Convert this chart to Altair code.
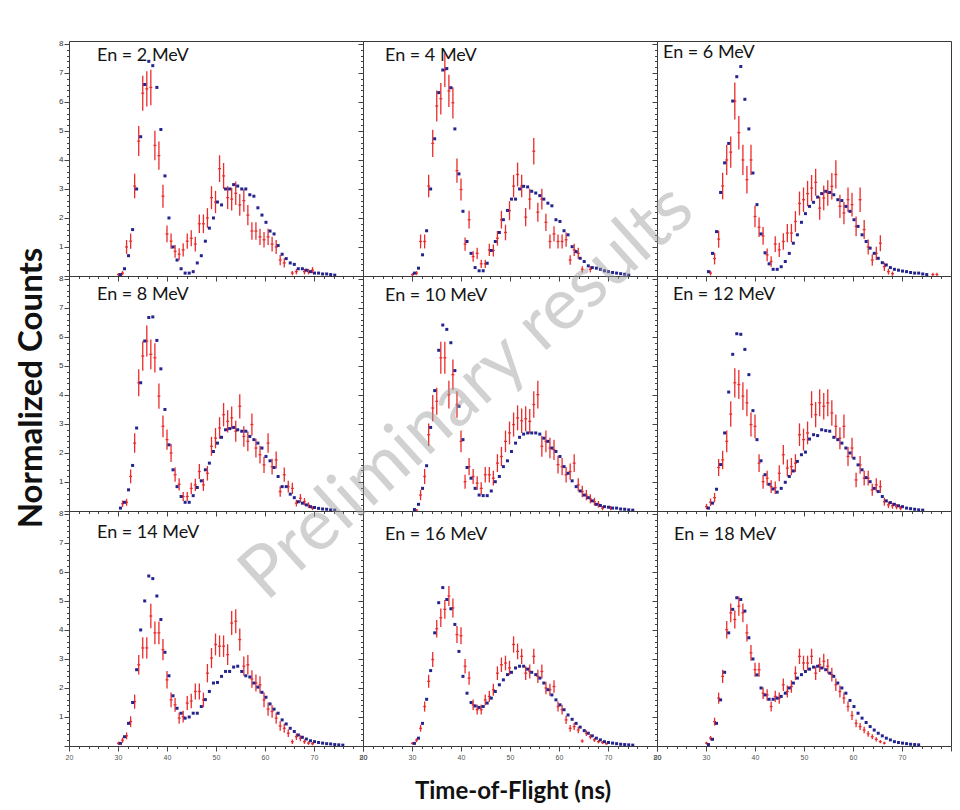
import altair as alt
import pandas as pd

# ---------------- data ----------------
# time-of-flight bin centres (ns)
TOF = [30.10, 30.93, 31.75, 32.58, 33.40, 34.23, 35.05, 35.88, 36.70, 37.53,
       38.35, 39.18, 40.00, 40.83, 41.65, 42.48, 43.30, 44.13, 44.95, 45.78,
       46.60, 47.43, 48.25, 49.08, 49.90, 50.73, 51.55, 52.38, 53.20, 54.03,
       54.85, 55.68, 56.50, 57.33, 58.15, 58.98, 59.80, 60.63, 61.45, 62.28,
       63.10, 63.93, 64.75, 65.58, 66.40, 67.23, 68.05, 68.88, 69.70, 70.53,
       71.35, 72.18, 73.00, 73.83, 74.65, 75.48, 76.30, 77.13, 77.95]
BLUE_OFFSET = 0.4

ENERGIES = [2, 4, 6, 8, 10, 12, 14, 16, 18]
LABELS = ["En = %d MeV" % e for e in ENERGIES]

# measured (red, with error bars)
RED_2 = [0.05, 0.1, 1.0, 1.2, 3.1, 4.65, 6.3, 6.45, 6.5, 4.5, 4.15, 2.75, 1.45, 1.2, 0.85, 0.75, 0.9, 1.2,
         1.3, 1.1, 1.8, 1.8, 2.0, 2.7, 2.55, 3.7, 3.45, 2.7, 2.65, 2.85, 2.45, 2.6, 2.1, 1.55, 1.55, 1.35,
         1.25, 1.35, 1.1, 1.0, 0.55, 0.45, None, 0.1, 0.15, None, 0.15, 0.15, 0.2]
RED_4 = [0.05, 0.1, 1.19, 1.19, 3.1, 4.57, 5.86, 6.11, 7.1, 6.38, 5.97, 3.63, 2.98, 1.1, 1.94, 0.67, 0.78,
         0.42, 0.42, 0.9, 0.88, 1.3, 1.94, 1.5, 2.25, 3.1, 3.5, 3.1, 2.03, 2.65, 4.3, 2.2, 2.65, 1.85, 1.19,
         1.45, 1.19, 1.19, 1.25, 0.55, 0.9, 0.78, 0.23, None, 0.23]
RED_6 = [None, 0.1, 0.6, 1.27, 3.1, 4.0, 4.27, 6.03, 4.94, 4.0, 3.32, 4.0, 2.05, 1.68, 1.38, 0.73, 0.5, 1.1,
         0.9, 1.19, 1.48, 1.48, 1.88, 2.5, 2.63, 2.84, 3.03, 3.23, 2.34, 2.69, 2.86, 3.09, 3.5, 2.4, 2.17,
         2.63, 2.46, 1.71, 2.63, 1.6, 1.0, 0.55, 0.78, 1.13, 0.32, 0.15, 0.08, None, None, None, None, None,
         None, None, None, None, 0.05, 0.05]
RED_8 = [None, 0.25, 0.3, 1.19, 2.34, 4.42, 5.34, 5.86, 5.4, 5.28, 3.96, 2.92, 2.46, 2.0, 1.25, 0.92, 0.5,
         0.5, 0.78, 0.9, 1.36, 0.9, 1.3, 2.23, 2.51, 2.86, 3.32, 3.09, 3.21, 2.75, 3.61, 2.57, 2.4, 2.98,
         2.17, 1.94, 1.59, 2.34, 1.53, 1.76, 0.67, 1.25, 0.84, 0.78, 0.27, 0.44, 0.32, 0.2, 0.1]
RED_10 = [None, 0.03, 0.55, 1.19, 2.63, 3.55, 3.78, 5.28, 5.28, 4.01, 4.7, 3.67, 2.4, 1.01, 1.53, 1.19,
          0.96, 0.78, 1.25, 1.25, 1.13, 1.65, 1.88, 2.4, 2.69, 2.98, 3.21, 3.11, 3.18, 3.09, 3.67, 4.01,
          2.23, 2.4, 2.17, 2.11, 1.6, 1.53, 1.25, 1.36, 1.65, 0.9, 0.67, 0.55, 0.42, 0.32, 0.23, 0.1, None,
          0.1]
RED_12 = [0.15, 0.3, 0.46, 1.5, 1.76, 2.4, 3.34, 4.42, 4.36, 3.96, 3.73, 2.98, 2.92, 1.65, 1.01, 1.13,
          0.84, 0.8, 1.3, 1.94, 1.48, 1.53, 1.65, 2.63, 2.46, 2.69, 3.67, 3.32, 3.73, 3.61, 3.73, 3.38,
          2.92, 2.51, 2.92, 1.88, 2.17, 1.07, 1.59, 1.13, 1.13, 0.73, 0.9, 0.84, 0.32, 0.21, 0.18, 0.15, 0.1]
RED_14 = [0.09, 0.2, 0.35, 0.84, 1.53, 2.8, 3.38, 3.38, 4.48, 3.9, 3.9, 3.32, 2.28, 1.59, 1.42, 0.96,
          1.01, 1.48, 1.55, 1.88, 1.88, 1.59, 2.51, 3.03, 3.5, 3.44, 3.44, 3.15, 4.24, 4.3, 3.67, 2.75,
          2.8, 2.31, 2.17, 2.11, 1.59, 1.27, 1.19, 0.96, 0.69, 0.61, 0.44, 0.15, 0.32, 0.27, 0.15, 0.1, 0.08]
RED_16 = [0.09, 0.2, 0.61, 1.36, 2.23, 2.98, 4.04, 4.42, 4.71, 5.17, 4.76, 3.84, 3.8, 2.75, 2.34, 1.42,
          1.25, 1.25, 1.59, 1.71, 1.94, 2.51, 2.8, 2.86, 2.69, 3.5, 3.26, 3.09, 2.51, 2.57, 3.09, 2.4,
          2.57, 2.0, 1.94, 2.05, 1.36, 1.25, 0.9, 0.61, 0.67, 0.55, 0.17, 0.44, 0.32, 0.21, 0.15, 0.12, 0.08]
RED_18 = [0.1, 0.27, 0.84, 1.65, 2.4, 4.01, 4.59, 4.36, 4.82, 4.59, 3.9, 3.21, 2.63, 2.63, 1.82, 1.76,
          1.36, 1.71, 1.65, 2.11, 1.88, 2.05, 2.51, 3.09, 2.86, 2.86, 3.09, 2.51, 2.8, 2.92, 2.75, 2.46,
          2.11, 1.88, 1.65, 1.36, 1.05, 0.78, 0.67, 0.55, 0.42, 0.32, 0.23, 0.15, 0.1]

# simulation (blue)
BLUE_2 = [0.05, 0.25, 0.7, 1.6, 3.0, 4.8, 6.6, 7.4, 7.25, 6.5, 5.05, 3.45, 2.0, 1.0, 0.55, 0.25, 0.1, 0.1,
          0.15, 0.45, 0.7, 1.2, 1.65, 2.0, 2.55, 2.45, 3.0, 3.0, 3.15, 3.1, 3.0, 3.0, 2.8, 2.75, 2.35, 2.1,
          1.85, 1.55, 1.45, 1.05, 0.75, 0.6, 0.45, 0.4, 0.25, 0.25, 0.2, 0.15, 0.1, 0.1, 0.07, 0.07, 0.05,
          0.03]
BLUE_4 = [0.1, 0.27, 0.73, 1.56, 3.0, 4.73, 6.32, 7.1, 7.15, 6.49, 5.07, 3.52, 2.23, 1.19, 0.78, 0.29,
          0.18, 0.18, 0.44, 0.88, 1.19, 1.5, 1.94, 2.26, 2.65, 2.65, 3.0, 3.09, 3.07, 2.92, 2.86, 2.77,
          2.65, 2.51, 2.42, 1.94, 1.88, 1.56, 1.42, 1.01, 0.84, 0.61, 0.5, 0.35, 0.29, 0.27, 0.23, 0.18,
          0.15, 0.12, 0.1, 0.08, 0.06, 0.03]
BLUE_6 = [0.15, 0.78, 1.53, 2.88, 3.9, 4.57, 6.03, 6.87, 7.22, 6.09, 5.07, 3.55, 2.46, 1.45, 0.8, 0.42,
          0.23, 0.23, 0.32, 0.5, 0.78, 1.13, 1.42, 1.85, 2.15, 2.4, 2.54, 2.72, 2.84, 2.92, 2.88, 2.8,
          2.63, 2.6, 2.4, 2.23, 1.94, 1.71, 1.42, 1.19, 0.96, 0.78, 0.61, 0.46, 0.38, 0.29, 0.23, 0.2,
          0.17, 0.15, 0.12, 0.1, 0.1, 0.07, 0.05]
BLUE_8 = [0.1, 0.3, 0.73, 1.57, 2.86, 4.42, 5.86, 6.67, 6.69, 5.88, 4.9, 3.5, 2.28, 1.42, 0.84, 0.5, 0.3,
          0.3, 0.53, 0.81, 1.04, 1.42, 1.65, 2.05, 2.34, 2.54, 2.8, 2.84, 2.88, 2.8, 2.75, 2.75, 2.57,
          2.46, 2.34, 2.17, 1.88, 1.73, 1.5, 1.19, 0.84, 0.84, 0.58, 0.46, 0.32, 0.27, 0.21, 0.15, 0.12,
          0.09, 0.07, 0.06, 0.04, 0.03]
BLUE_10 = [0.05, 0.23, 0.78, 1.56, 2.88, 4.15, 5.54, 6.41, 6.26, 5.8, 4.84, 3.61, 2.46, 1.5, 1.13, 0.78,
           0.55, 0.53, 0.53, 0.69, 1.01, 1.19, 1.53, 1.73, 2.05, 2.34, 2.54, 2.65, 2.69, 2.69, 2.69, 2.65,
           2.51, 2.4, 2.17, 2.05, 1.88, 1.53, 1.3, 1.04, 0.84, 0.69, 0.55, 0.46, 0.35, 0.23, 0.19, 0.15,
           0.13, 0.1, 0.1, 0.07, 0.06, 0.04, 0.03]
BLUE_12 = [0.1, 0.27, 0.75, 1.6, 2.69, 4.1, 5.4, 6.11, 6.09, 5.57, 4.7, 3.46, 2.46, 1.73, 1.25, 0.92,
           0.76, 0.65, 0.78, 0.99, 1.19, 1.38, 1.71, 1.94, 2.03, 2.48, 2.63, 2.6, 2.8, 2.77, 2.75, 2.54,
           2.46, 2.34, 2.17, 2.0, 1.82, 1.59, 1.42, 1.15, 1.01, 0.78, 0.67, 0.5, 0.35, 0.29, 0.23, 0.18,
           0.15, 0.1, 0.08, 0.06, 0.04, 0.03]
BLUE_14 = [0.09, 0.32, 0.78, 1.5, 2.63, 4.0, 5.0, 5.86, 5.77, 5.17, 4.36, 3.23, 2.42, 1.73, 1.3, 1.13,
           0.96, 1.0, 1.13, 1.13, 1.36, 1.6, 1.88, 2.17, 2.19, 2.4, 2.57, 2.57, 2.72, 2.75, 2.57, 2.42,
           2.38, 2.17, 2.03, 1.85, 1.68, 1.45, 1.27, 1.13, 0.9, 0.76, 0.61, 0.5, 0.38, 0.3, 0.24, 0.18,
           0.15, 0.12, 0.1, 0.08, 0.07, 0.05, 0.04, 0.03]
BLUE_16 = [0.09, 0.27, 0.78, 1.61, 2.6, 3.9, 4.94, 5.46, 5.05, 4.73, 4.19, 3.26, 2.4, 1.82, 1.5, 1.38,
           1.33, 1.36, 1.48, 1.65, 1.88, 2.11, 2.28, 2.46, 2.54, 2.69, 2.75, 2.75, 2.65, 2.54, 2.46, 2.34,
           2.17, 1.94, 1.76, 1.59, 1.42, 1.25, 1.07, 0.92, 0.78, 0.65, 0.53, 0.44, 0.35, 0.27, 0.21, 0.15,
           0.12, 0.1, 0.08, 0.06, 0.05, 0.04, 0.03]
BLUE_18 = [0.05, 0.23, 0.78, 1.59, 2.54, 3.9, 4.71, 5.11, 5.05, 4.65, 3.73, 3.0, 2.45, 2.0, 1.76, 1.61,
           1.61, 1.65, 1.71, 1.82, 2.0, 2.17, 2.34, 2.46, 2.57, 2.65, 2.72, 2.75, 2.69, 2.63, 2.51, 2.4,
           2.17, 2.0, 1.82, 1.57, 1.36, 1.13, 0.96, 0.81, 0.67, 0.55, 0.44, 0.35, 0.27, 0.21, 0.15, 0.12,
           0.1, 0.08, 0.06, 0.05, 0.04]

RED = [RED_2, RED_4, RED_6, RED_8, RED_10, RED_12, RED_14, RED_16, RED_18]
BLUE = [BLUE_2, BLUE_4, BLUE_6, BLUE_8, BLUE_10, BLUE_12, BLUE_14, BLUE_16, BLUE_18]
# statistical error scale per panel (err = scale * sqrt(counts))
ERR_SCALE = [0.24, 0.22, 0.26, 0.22, 0.24, 0.24, 0.20, 0.15, 0.15]

Y_TICKS = [round(0.2 * k, 1) for k in range(41)]
X_TICKS = list(range(20, 81, 2))

TITLE_Y = "Normalized Counts"
TITLE_X = "Time-of-Flight (ns)"
WATERMARK = "Preliminary results"

# ---------------- style / layout ----------------
PW, PH = 294, 235
RED_C = "#ec2b2b"
BLUE_C = "#24248e"
LABEL_DX = [28, 22, 6, 28, 22, 16, 28, 22, 17]
LABEL_DY = [15, 15, 12, 19, 20, 19, 22, 24, 24]


def frame(values, shift=0.0):
    rows = [(TOF[i] + shift, v) for i, v in enumerate(values) if v is not None]
    return pd.DataFrame(rows, columns=["t", "v"])


def panel(k):
    row, col = divmod(k, 3)
    xs = alt.Scale(domain=[20, 80], nice=False, zero=False)
    ys = alt.Scale(domain=[0, 8.1], nice=False, zero=False)
    top_label = 80 if col < 2 else 70
    xaxis = alt.Axis(
        values=X_TICKS, labels=(row == 2), title=None, domain=False, grid=False,
        labelExpr="datum.value %% 10 === 0 && datum.value <= %d ? datum.label : ''" % top_label,
        tickSize={"condition": {"test": "datum.value % 10 === 0", "value": 5}, "value": 2.5},
        tickColor="#444", labelColor="#555", labelFontSize=7, labelFont="Liberation Sans",
        labelFlush=False, labelOverlap=False, labelPadding=2)
    yaxis = alt.Axis(
        values=Y_TICKS, labels=(col == 0), title=None, domain=False, grid=False,
        labelExpr="abs(datum.value - round(datum.value)) < 0.001 && datum.value > 0 ? format(datum.value, 'd') : ''",
        tickSize={"condition": {"test": "abs(datum.value - round(datum.value)) < 0.001", "value": 5},
                  "value": 2.5},
        tickColor="#444", labelColor="#333", labelFontSize=8, labelFont="Liberation Sans",
        labelFlush=False, labelOverlap=False, labelPadding=1)

    red = frame(RED[k])
    red["err"] = ERR_SCALE[k] * red["v"] ** 0.5
    red["lo"] = (red["v"] - red["err"]).clip(lower=0)
    red["hi"] = red["v"] + red["err"]
    red["tl"] = red["t"] - 0.3
    red["th"] = red["t"] + 0.3
    blue = frame(BLUE[k], BLUE_OFFSET)

    err_v = alt.Chart(red).mark_rule(color=RED_C, strokeWidth=1.3, clip=True).encode(
        x=alt.X("t:Q", scale=xs, axis=xaxis),
        y=alt.Y("lo:Q", scale=ys, axis=yaxis), y2="hi:Q")
    err_h = alt.Chart(red).mark_rule(color=RED_C, strokeWidth=1.3, clip=True).encode(
        x=alt.X("tl:Q", scale=xs, axis=xaxis), x2="th:Q",
        y=alt.Y("v:Q", scale=ys, axis=yaxis))
    pts = alt.Chart(blue).mark_square(size=9, color=BLUE_C, opacity=1, clip=True).encode(
        x=alt.X("t:Q", scale=xs, axis=xaxis),
        y=alt.Y("v:Q", scale=ys, axis=yaxis))
    lab = alt.Chart(pd.DataFrame({"txt": [LABELS[k]]})).mark_text(
        align="left", baseline="middle", fontSize=18, font="Lato", color="#151515").encode(
        x=alt.value(LABEL_DX[k]), y=alt.value(LABEL_DY[k]), text="txt:N")
    layers = [err_v, err_h, pts, lab]

    if k == 3:
        layers.append(alt.Chart(pd.DataFrame({"txt": [TITLE_Y]})).mark_text(
            align="center", baseline="middle", angle=270, fontSize=33, fontWeight="bold",
            font="Lato", color="#111").encode(
            x=alt.value(-37), y=alt.value(112), text="txt:N"))
    if k == 7:
        layers.append(alt.Chart(pd.DataFrame({"txt": [TITLE_X]})).mark_text(
            align="center", baseline="middle", fontSize=24, fontWeight="bold",
            font="Lato", color="#111").encode(
            x=alt.value(150), y=alt.value(281), text="txt:N"))
    if k == 8:
        layers.append(alt.Chart(pd.DataFrame({"txt": [WATERMARK]})).mark_text(
            align="center", baseline="middle", angle=318, fontSize=72,
            font="Lato", color="#9a9a9a", opacity=0.45).encode(
            x=alt.value(-190), y=alt.value(-119), text="txt:N"))

    return alt.layer(*layers).properties(width=PW, height=PH)


chart = alt.concat(*[panel(k) for k in range(9)], columns=3, spacing=0, bounds="flush").properties(
    padding={"left": 7, "top": 31, "right": 0, "bottom": 0},
    background="white",
).configure_view(stroke="#3a3a3a", strokeWidth=1)

chart.save("out.html", embed_options={"renderer": "svg", "actions": False})
